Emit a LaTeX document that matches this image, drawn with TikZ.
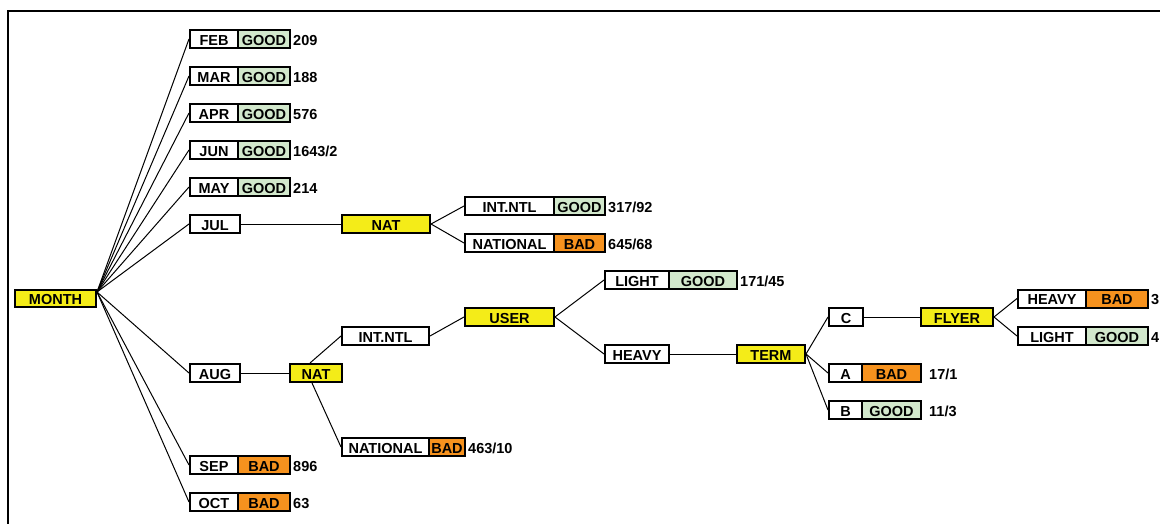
\documentclass[tikz,border=0pt]{standalone}
\usepackage{fontspec}
\setmainfont{Liberation Sans}
\usetikzlibrary{calc}
\definecolor{nodeyellow}{RGB}{244,236,24}
\definecolor{goodgreen}{RGB}{210,232,204}
\definecolor{badorange}{RGB}{246,146,30}
\tikzset{
  cell/.style={draw=black, line width=2pt, minimum height=18pt, inner sep=0pt,
    text height=12.5pt, text depth=0pt,
    font=\fontsize{14.5}{16}\selectfont\bfseries, anchor=center},
  wcell/.style={cell, fill=white},
  ycell/.style={cell, fill=nodeyellow},
  gcell/.style={cell, fill=goodgreen},
  ocell/.style={cell, fill=badorange},
  count/.style={anchor=west, inner sep=0pt, text height=12.5pt, text depth=0pt,
    font=\fontsize{14.5}{16}\selectfont\bfseries},
  link/.style={draw=black, line width=1pt}
}
\begin{document}
\begin{tikzpicture}[x=1pt,y=-1pt]
\useasboundingbox (0,0) rectangle (1160,524);
% frame
\draw[line width=2pt] (8,524) -- (8,11) -- (1160,11);

% root
\node[ycell, minimum width=81pt, minimum height=17pt] (month) at (55.5,298.5) {MONTH};
\coordinate (hub) at (97,292);

% months with direct outcome
\node[wcell, minimum width=48pt] (feb) at (214,39) {FEB};
\node[gcell, minimum width=52pt] (febr) at (264,39) {GOOD};
\node[count] (febn) at (293,39) {209};
\node[wcell, minimum width=48pt] (mar) at (214,76) {MAR};
\node[gcell, minimum width=52pt] (marr) at (264,76) {GOOD};
\node[count] (marn) at (293,76) {188};
\node[wcell, minimum width=48pt] (apr) at (214,113) {APR};
\node[gcell, minimum width=52pt] (aprr) at (264,113) {GOOD};
\node[count] (aprn) at (293,113) {576};
\node[wcell, minimum width=48pt] (jun) at (214,150) {JUN};
\node[gcell, minimum width=52pt] (junr) at (264,150) {GOOD};
\node[count] (junn) at (293,150) {1643/2};
\node[wcell, minimum width=48pt] (may) at (214,187) {MAY};
\node[gcell, minimum width=52pt] (mayr) at (264,187) {GOOD};
\node[count] (mayn) at (293,187) {214};
\node[wcell, minimum width=48pt] (sep) at (214,465) {SEP};
\node[ocell, minimum width=52pt] (sepr) at (264,465) {BAD};
\node[count] (sepn) at (293,465) {896};
\node[wcell, minimum width=48pt] (oct) at (214,502) {OCT};
\node[ocell, minimum width=52pt] (octr) at (264,502) {BAD};
\node[count] (octn) at (293,502) {63};

% JUL branch
\node[wcell, minimum width=50pt] (jul) at (215,224) {JUL};
\node[ycell, minimum width=88pt] (nata) at (386,224) {NAT};
\node[wcell, minimum width=89pt] (inta) at (509.5,206) {INT.NTL};
\node[gcell, minimum width=51pt] (intar) at (579.5,206) {GOOD};
\node[count] (intan) at (608,206) {317/92};
\node[wcell, minimum width=89pt] (nala) at (509.5,243) {NATIONAL};
\node[ocell, minimum width=51pt] (nalar) at (579.5,243) {BAD};
\node[count] (nalan) at (608,243) {645/68};

% AUG branch
\node[wcell, minimum width=50pt] (aug) at (215,373) {AUG};
\node[ycell, minimum width=52pt] (natb) at (316,373) {NAT};
\node[wcell, minimum width=87pt] (intb) at (385.5,336) {INT.NTL};
\node[wcell, minimum width=87pt] (nalb) at (385.5,447) {NATIONAL};
\node[ocell, minimum width=36pt] (nalbr) at (447,447) {BAD};
\node[count] (nalbn) at (468,447) {463/10};
\node[ycell, minimum width=89pt] (user) at (509.5,317) {USER};
\node[wcell, minimum width=64pt] (lighta) at (637,280) {LIGHT};
\node[gcell, minimum width=68pt] (lightar) at (703,280) {GOOD};
\node[count] (lightan) at (740,280) {171/45};
\node[wcell, minimum width=64pt] (heavya) at (637,354) {HEAVY};
\node[ycell, minimum width=68pt] (term) at (771,354) {TERM};
\node[wcell, minimum width=34pt] (tc) at (846,317) {C};
\node[wcell, minimum width=33pt] (ta) at (845.5,373) {A};
\node[ocell, minimum width=59pt] (tar) at (891.5,373) {BAD};
\node[count] (tan) at (929,373) {17/1};
\node[wcell, minimum width=33pt] (tb) at (845.5,410) {B};
\node[gcell, minimum width=59pt] (tbr) at (891.5,410) {GOOD};
\node[count] (tbn) at (929,410) {11/3};
\node[ycell, minimum width=72pt] (flyer) at (957,317) {FLYER};
\node[wcell, minimum width=68pt] (heavyb) at (1052,298.5) {HEAVY};
\node[ocell, minimum width=62pt] (heavybr) at (1117,298.5) {BAD};
\node[count] (heavybn) at (1151,298.5) {3};
\node[wcell, minimum width=68pt] (lightb) at (1052,336) {LIGHT};
\node[gcell, minimum width=62pt] (lightbr) at (1117,336) {GOOD};
\node[count] (lightbn) at (1151,336) {4};

% connectors
\foreach \m in {feb,mar,apr,jun,may,jul,aug,sep,oct}
  \draw[link] (hub) -- (\m.west);
\draw[link] (jul.east) -- (nata.west);
\draw[link] (nata.east) -- (inta.west);
\draw[link] (nata.east) -- (nala.west);
\draw[link] (aug.east) -- (natb.west);
\draw[link] ([xshift=-6pt]natb.north) -- (intb.west);
\draw[link] ([xshift=-4pt]natb.south) -- (nalb.west);
\draw[link] (intb.east) -- (user.west);
\draw[link] (user.east) -- (lighta.west);
\draw[link] (user.east) -- (heavya.west);
\draw[link] (heavya.east) -- (term.west);
\draw[link] (term.east) -- (tc.west);
\draw[link] (term.east) -- (ta.west);
\draw[link] (term.east) -- (tb.west);
\draw[link] (tc.east) -- (flyer.west);
\draw[link] (flyer.east) -- (heavyb.west);
\draw[link] (flyer.east) -- (lightb.west);
\end{tikzpicture}
\end{document}
